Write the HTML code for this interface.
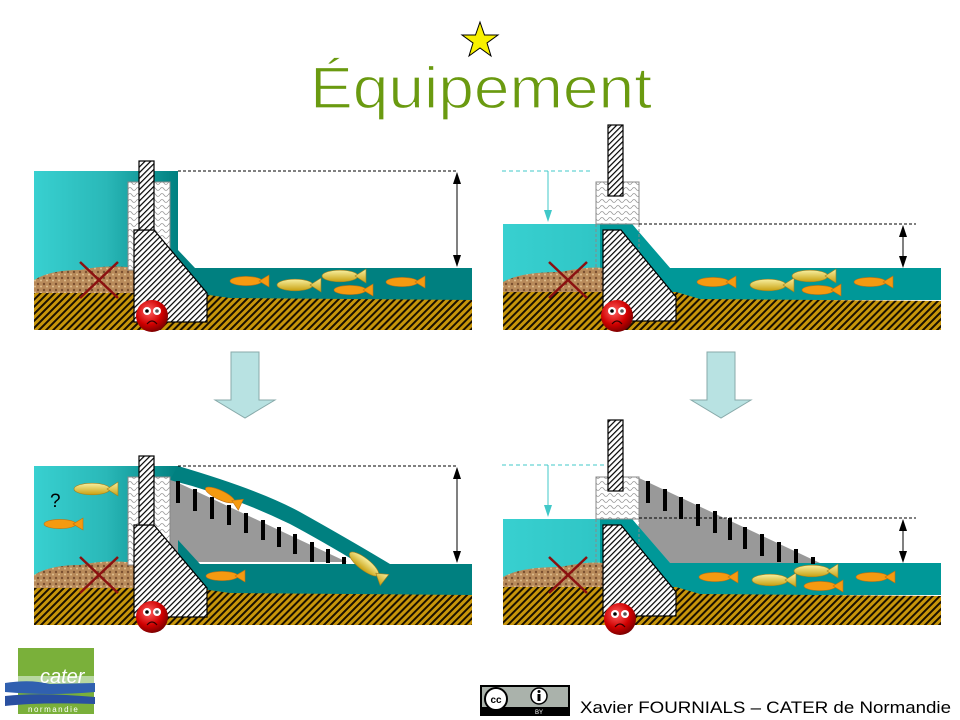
<!DOCTYPE html>
<html><head><meta charset="utf-8"><style>
html,body{margin:0;padding:0;background:#fff;}
svg{display:block;}
</style></head><body>
<svg width="960" height="720" viewBox="0 0 960 720" xmlns="http://www.w3.org/2000/svg">
<defs>
<pattern id="gh" width="5" height="5" patternUnits="userSpaceOnUse" patternTransform="rotate(45)">
<rect width="5" height="5" fill="#c8960a"/><rect width="2" height="5" fill="#1a1000"/></pattern>
<pattern id="dh" width="4" height="4" patternUnits="userSpaceOnUse" patternTransform="rotate(45)">
<rect width="4" height="4" fill="#fff"/><rect width="1.2" height="4" fill="#000"/></pattern>
<pattern id="wv" width="8" height="6" patternUnits="userSpaceOnUse">
<rect width="8" height="6" fill="#fff"/><path d="M0,3 Q2,0 4,3 T8,3" fill="none" stroke="#999" stroke-width="0.8"/></pattern>
<pattern id="gr" width="6" height="6" patternUnits="userSpaceOnUse">
<rect width="6" height="6" fill="#b88a5a"/><circle cx="2" cy="2" r="1.2" fill="#7a5030"/><circle cx="5" cy="4.5" r="1" fill="#e0c090"/></pattern>
<linearGradient id="uw" x1="0" x2="1"><stop offset="0" stop-color="#38d0d0"/><stop offset="0.5" stop-color="#2ab8b8"/><stop offset="1" stop-color="#008080"/></linearGradient>
<linearGradient id="uw2" x1="0" x2="1"><stop offset="0" stop-color="#38d0d0"/><stop offset="1" stop-color="#10a0a0"/></linearGradient>
<radialGradient id="face" cx="0.4" cy="0.35" r="0.7"><stop offset="0" stop-color="#ff6060"/><stop offset="0.6" stop-color="#d00000"/><stop offset="1" stop-color="#700000"/></radialGradient>
<linearGradient id="fy" x1="0" y1="0" x2="0" y2="1"><stop offset="0" stop-color="#f8f0a0"/><stop offset="1" stop-color="#c8a010"/></linearGradient>
<g id="fo"><ellipse cx="0" cy="0" rx="16" ry="4.6" fill="#f59a10" stroke="#c07010" stroke-width="0.6"/><polygon points="13,0 23,-6 23,6" fill="#f59a10" stroke="#c07010" stroke-width="0.6"/></g>
<g id="fy1"><ellipse cx="0" cy="0" rx="18" ry="5.8" fill="url(#fy)" stroke="#a08020" stroke-width="0.6"/><polygon points="15,0 26,-7 26,7" fill="url(#fy)" stroke="#a08020" stroke-width="0.6"/></g>
<g id="sad"><circle r="16" fill="url(#face)"/><circle cx="-5" cy="-5" r="4" fill="#fff"/><circle cx="5" cy="-5" r="4" fill="#fff"/><circle cx="-5" cy="-5" r="1.8" fill="#000"/><circle cx="5" cy="-5" r="1.8" fill="#555"/><path d="M-5,8 Q0,2 5,8" fill="none" stroke="#300" stroke-width="1.2"/></g>
<g id="x"><line x1="0" y1="0" x2="38" y2="36" stroke="#8b1010" stroke-width="2.5"/><line x1="38" y1="0" x2="0" y2="36" stroke="#8b1010" stroke-width="2.5"/></g>
<g id="bigarrow"><polygon points="-14,0 14,0 14,48 30,48 0,66 -30,48 -14,48" fill="#b8e2e2" stroke="#8aa" stroke-width="1"/></g>
</defs>

<!-- Title -->
<polygon points="480,22 484.5,35 498,35 487,43 491,56 480,48 469,56 473,43 462,35 475.5,35" fill="#f8f000" stroke="#000" stroke-width="1"/>
<text x="481" y="108" text-anchor="middle" font-family="Liberation Sans, sans-serif" font-size="58" fill="#6a9a10" stroke="#fff" stroke-width="1.2" paint-order="normal" textLength="342" lengthAdjust="spacingAndGlyphs">Équipement</text>

<!-- ===== Top-left ===== -->
<rect x="34" y="171" width="144" height="122" fill="url(#uw)"/>
<polygon points="178,250 195,268 472,268 472,300 178,300" fill="#008080"/>
<path d="M34,280 Q50,270 80,270 Q110,264 134,268 L134,293 L34,293 Z" fill="url(#gr)"/>
<path d="M34,293 L195,293 L230,298 L472,300 L472,330 L34,330 Z" fill="url(#gh)"/>
<rect x="128" y="182" width="42" height="88" fill="url(#wv)" stroke="#888" stroke-width="1"/>
<polygon points="134,230 154,230 207,293 207,322 134,322" fill="url(#dh)" stroke="#000" stroke-width="1.2"/>
<rect x="139" y="161" width="15" height="69" fill="url(#dh)" stroke="#000" stroke-width="1.2"/>
<line x1="178" y1="171" x2="458" y2="171" stroke="#000" stroke-dasharray="3,2"/>
<line x1="457" y1="173" x2="457" y2="266" stroke="#000"/>
<polygon points="457,172 453,184 461,184" fill="#000"/><polygon points="457,267 453,255 461,255" fill="#000"/>
<use href="#x" x="80" y="262"/>
<use href="#sad" x="152" y="316"/>
<use href="#fo" x="246" y="281"/><use href="#fy1" x="295" y="285"/><use href="#fy1" x="340" y="276"/><use href="#fo" x="350" y="290"/><use href="#fo" x="402" y="282"/>

<!-- ===== Top-right ===== -->
<polygon points="503,224 632,224 670,268 941,268 941,300 503,300" fill="url(#uw2)"/>
<polygon points="600,224 632,224 670,268 941,268 941,300 600,300" fill="#009898"/>
<path d="M503,282 Q520,272 560,272 Q590,266 603,268 L603,292 L503,292 Z" fill="url(#gr)"/>
<path d="M503,292 L676,292 L700,299 L941,301 L941,330 L503,330 Z" fill="url(#gh)"/>
<rect x="596" y="182" width="43" height="42" fill="url(#wv)" stroke="#888" stroke-width="1"/>
<line x1="596" y1="224" x2="596" y2="270" stroke="#888" stroke-dasharray="3,2"/>
<line x1="639" y1="224" x2="639" y2="270" stroke="#888" stroke-dasharray="3,2"/>
<polygon points="603,230 621,230 676,297 676,321 603,321" fill="url(#dh)" stroke="#000" stroke-width="1.2"/>
<rect x="608" y="125" width="15" height="71" fill="url(#dh)" stroke="#000" stroke-width="1.2"/>
<line x1="502" y1="171" x2="592" y2="171" stroke="#40c8c8" stroke-dasharray="4,3"/>
<line x1="548" y1="171" x2="548" y2="214" stroke="#40c8c8"/><polygon points="548,222 544,210 552,210" fill="#40c8c8"/>
<line x1="639" y1="224" x2="916" y2="224" stroke="#000" stroke-dasharray="3,2"/>
<line x1="903" y1="226" x2="903" y2="266" stroke="#000"/>
<polygon points="903,225 899,237 907,237" fill="#000"/><polygon points="903,268 899,256 907,256" fill="#000"/>
<use href="#x" x="549" y="262"/>
<use href="#sad" x="617" y="316"/>
<use href="#fo" x="713" y="282"/><use href="#fy1" x="768" y="285"/><use href="#fy1" x="810" y="276"/><use href="#fo" x="818" y="290"/><use href="#fo" x="870" y="282"/>

<!-- arrows -->
<use href="#bigarrow" x="245" y="352"/>
<use href="#bigarrow" x="721" y="352"/>

<!-- ===== Bottom-left ===== -->
<rect x="34" y="466" width="144" height="122" fill="url(#uw)"/>
<polygon points="170,479 347,562 170,562" fill="#999"/>
<path d="M178,466 Q260,490 300,512 Q350,540 390,564 L360,564 Q320,540 290,524 Q230,495 170,480 Z" fill="#008080"/>
<polygon points="178,540 200,564 472,564 472,595 178,595" fill="#008080"/>
<g fill="#000">
<rect x="176" y="481" width="4" height="22"/><rect x="193" y="489" width="4" height="22"/><rect x="210" y="497" width="4" height="22"/><rect x="227" y="505" width="4" height="20"/><rect x="244" y="513" width="4" height="20"/><rect x="261" y="520" width="4" height="20"/><rect x="277" y="527" width="4" height="20"/><rect x="293" y="534" width="4" height="20"/><rect x="310" y="542" width="4" height="20"/><rect x="326" y="549" width="4" height="14"/><rect x="342" y="557" width="4" height="7"/>
</g>
<path d="M34,575 Q50,565 80,565 Q110,559 134,563 L134,588 L34,588 Z" fill="url(#gr)"/>
<path d="M34,588 L195,588 L230,593 L472,595 L472,625 L34,625 Z" fill="url(#gh)"/>
<rect x="128" y="477" width="42" height="88" fill="url(#wv)" stroke="#888" stroke-width="1"/>
<polygon points="134,525 154,525 207,588 207,617 134,617" fill="url(#dh)" stroke="#000" stroke-width="1.2"/>
<rect x="139" y="456" width="15" height="69" fill="url(#dh)" stroke="#000" stroke-width="1.2"/>
<line x1="178" y1="466" x2="458" y2="466" stroke="#000" stroke-dasharray="3,2"/>
<line x1="457" y1="468" x2="457" y2="562" stroke="#000"/>
<polygon points="457,467 453,479 461,479" fill="#000"/><polygon points="457,563 453,551 461,551" fill="#000"/>
<use href="#x" x="80" y="557"/>
<use href="#sad" x="152" y="617"/>
<use href="#fy1" x="92" y="489"/><use href="#fo" x="60" y="524"/><use href="#fo" x="222" y="576"/>
<use href="#fo" transform="translate(220,495) rotate(25)"/><use href="#fy1" transform="translate(364,564) rotate(38)"/>
<text x="50" y="507" font-family="Liberation Sans, sans-serif" font-size="19" fill="#000">?</text>

<!-- ===== Bottom-right ===== -->
<polygon points="639,478 820,563 639,563" fill="#999"/>
<polygon points="503,519 632,519 670,563 941,563 941,595 503,595" fill="url(#uw2)"/>
<polygon points="600,519 632,519 670,563 941,563 941,595 600,595" fill="#009898"/>
<g fill="#000">
<rect x="646" y="481" width="4" height="22"/><rect x="663" y="489" width="4" height="22"/><rect x="679" y="497" width="4" height="22"/><rect x="696" y="504" width="4" height="22"/><rect x="713" y="511" width="4" height="22"/><rect x="728" y="518" width="4" height="22"/><rect x="743" y="527" width="4" height="22"/><rect x="760" y="534" width="4" height="22"/><rect x="777" y="542" width="4" height="20"/><rect x="794" y="549" width="4" height="14"/><rect x="811" y="557" width="4" height="7"/>
</g>
<path d="M503,577 Q520,567 560,567 Q590,561 603,563 L603,587 L503,587 Z" fill="url(#gr)"/>
<path d="M503,587 L676,587 L700,594 L941,596 L941,625 L503,625 Z" fill="url(#gh)"/>
<rect x="596" y="477" width="43" height="42" fill="url(#wv)" stroke="#888" stroke-width="1"/>
<line x1="596" y1="519" x2="596" y2="565" stroke="#888" stroke-dasharray="3,2"/>
<line x1="639" y1="519" x2="639" y2="565" stroke="#888" stroke-dasharray="3,2"/>
<polygon points="603,525 621,525 676,592 676,616 603,616" fill="url(#dh)" stroke="#000" stroke-width="1.2"/>
<rect x="608" y="420" width="15" height="71" fill="url(#dh)" stroke="#000" stroke-width="1.2"/>
<line x1="502" y1="465" x2="604" y2="465" stroke="#40c8c8" stroke-dasharray="4,3"/>
<line x1="548" y1="465" x2="548" y2="509" stroke="#40c8c8"/><polygon points="548,517 544,505 552,505" fill="#40c8c8"/>
<line x1="639" y1="518" x2="916" y2="518" stroke="#000" stroke-dasharray="3,2"/>
<line x1="903" y1="520" x2="903" y2="561" stroke="#000"/>
<polygon points="903,519 899,531 907,531" fill="#000"/><polygon points="903,563 899,551 907,551" fill="#000"/>
<use href="#x" x="549" y="557"/>
<use href="#sad" x="620" y="619"/>
<use href="#fo" x="715" y="577"/><use href="#fy1" x="770" y="580"/><use href="#fy1" x="812" y="571"/><use href="#fo" x="820" y="586"/><use href="#fo" x="872" y="577"/>

<!-- Logo -->
<rect x="18" y="648" width="76" height="66" fill="#7ab03a"/>
<rect x="18" y="676" width="76" height="12" fill="#b8d8a0"/>
<path d="M5,683 Q30,679 50,684 L95,683 L95,692 Q50,696 5,692 Z" fill="#3060b0"/>
<path d="M5,696 Q40,692 95,697 L95,704 Q40,702 5,706 Z" fill="#2a50a0"/>
<text x="40" y="683" font-family="Liberation Sans, sans-serif" font-size="20" font-style="italic" fill="#fff">cater</text>
<text x="28" y="712" font-family="Liberation Sans, sans-serif" font-size="8" fill="#fff" letter-spacing="1.5">normandie</text>

<!-- CC badge -->
<rect x="480" y="685" width="90" height="31" fill="#000"/>
<rect x="482" y="687" width="86" height="20" fill="#aab2ab"/>
<circle cx="496" cy="699" r="11" fill="#fff" stroke="#000" stroke-width="2"/>
<text x="496" y="703" text-anchor="middle" font-family="Liberation Sans, sans-serif" font-size="10" font-weight="bold">cc</text>
<circle cx="539" cy="696" r="8" fill="#fff" stroke="#000" stroke-width="1.5"/>
<rect x="537.5" y="694" width="3" height="7" fill="#000"/><circle cx="539" cy="691.5" r="1.5" fill="#000"/>
<text x="539" y="714" text-anchor="middle" font-family="Liberation Sans, sans-serif" font-size="6" fill="#fff">BY</text>
<text x="580" y="713" font-family="Liberation Sans, sans-serif" font-size="17" fill="#000" textLength="371" lengthAdjust="spacingAndGlyphs">Xavier FOURNIALS – CATER de Normandie</text>
</svg>
</body></html>
